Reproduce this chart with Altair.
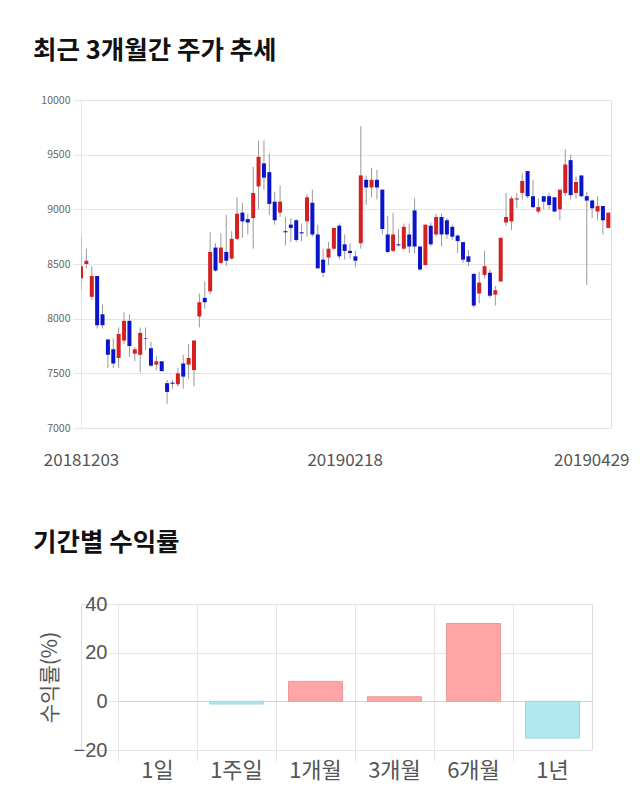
import altair as alt
import pandas as pd

# ---- candlestick data (index = trading day from 2018-12-03) ----
opens = [8370, 8500, 8200, 8390, 8040, 7810, 7720, 7640, 7800, 7980,
         7680, 7670, 7820, 7730, 7580, 7610, 7410, 7415, 7400, 7590,
         7580, 7530, 8020, 8190, 8250, 8650, 8510, 8610, 8550, 8730,
         8970, 8910, 8920, 9210, 9420, 9340, 9070, 8970, 8800, 8860,
         8900, 8790, 8890, 9060, 8770, 8540, 8560, 8640, 8850, 8680,
         8620, 8570, 8690, 9270, 9200, 9270, 9180, 8770, 8620, 8680,
         8640, 8770, 8990, 8660, 8490, 8850, 8770, 8930, 8900, 8840,
         8760, 8700, 8570, 8410, 8230, 8400, 8420, 8220, 8340, 8880,
         8890, 9090, 9150, 9350, 9120, 8980, 9120, 9120, 9110, 9000,
         9150, 9450, 9150, 9310, 9120, 9080, 8980, 9030, 8830]
closes = [8480, 8530, 8390, 7940, 7940, 7670, 7590, 7860, 7980, 7750,
          7720, 7870, 7815, 7570, 7610, 7520, 7330, 7405, 7500, 7470,
          7640, 7800, 8150, 8150, 8610, 8440, 8650, 8530, 8730, 8960,
          8890, 8880, 9150, 9480, 9290, 9050, 8900, 9070, 8790, 8830,
          8720, 8780, 9110, 8770, 8460, 8420, 8640, 8830, 8570, 8620,
          8600, 8530, 9310, 9200, 9270, 9200, 8820, 8610, 8770, 8670,
          8840, 8660, 8660, 8450, 8860, 8680, 8930, 8770, 8770, 8750,
          8710, 8540, 8520, 8120, 8330, 8480, 8210, 8260, 8740, 8930,
          9100, 9100, 9260, 9120, 9020, 9020, 9070, 9040, 8980, 9180,
          9410, 9130, 9250, 9120, 9080, 9010, 9030, 8900, 8970]
highs = [8750, 8640, 8480, 8390, 8130, 7810, 7820, 7920, 8060, 8040,
         7740, 7920, 7920, 7790, 7660, 7610, 7440, 7440, 7550, 7670,
         7770, 7800, 8230, 8340, 8790, 8690, 8780, 8950, 8800, 9110,
         9060, 8960, 9390, 9630, 9630, 9510, 9160, 9220, 8930, 8920,
         8910, 8870, 9140, 9180, 8860, 8640, 8700, 8830, 8870, 8770,
         8690, 8620, 9760, 9310, 9380, 9360, 9180, 8940, 8970, 8820,
         8870, 8870, 9100, 8660, 8860, 8880, 8960, 8960, 8920, 8860,
         8770, 8700, 8630, 8410, 8430, 8620, 8450, 8300, 8740, 9150,
         9120, 9150, 9330, 9350, 9270, 9100, 9120, 9150, 9110, 9180,
         9550, 9500, 9300, 9310, 9160, 9090, 9120, 9030, 8970]
lows = [8260, 8460, 8170, 7910, 7910, 7550, 7550, 7550, 7770, 7650,
        7610, 7510, 7710, 7560, 7530, 7520, 7220, 7360, 7380, 7360,
        7450, 7380, 7920, 8090, 8220, 8430, 8500, 8480, 8540, 8720,
        8740, 8770, 8640, 9000, 9180, 8950, 8860, 8930, 8670, 8700,
        8700, 8710, 8750, 8750, 8460, 8380, 8490, 8630, 8540, 8540,
        8550, 8470, 8640, 9040, 9110, 9090, 8770, 8600, 8610, 8660,
        8630, 8600, 8600, 8440, 8490, 8660, 8750, 8660, 8730, 8720,
        8600, 8510, 8480, 8100, 8140, 8370, 8190, 8120, 8340, 8850,
        8810, 9010, 9090, 9100, 9010, 8960, 9000, 9000, 8980, 8900,
        9120, 9090, 9100, 9110, 8310, 8920, 8900, 8770, 8830]
tick_idx = [0, 49, 98]
tick_labels = ["20181203", "20190218", "20190429"]
y_ticks = [7000, 7500, 8000, 8500, 9000, 9500, 10000]

# ---- period returns ----
periods = ["1일", "1주일", "1개월", "3개월", "6개월", "1년"]
returns = [0.0, -1.1, 8.2, 1.9, 32.0, -15.1]
ret_ticks = [-20, 0, 20, 40]

FONT = "Noto Sans CJK KR"
GRID = "#e6e6e6"

df = pd.DataFrame({"i": list(range(len(opens))), "open": opens, "close": closes,
                   "high": highs, "low": lows})

label_expr = "''"
for v, t in zip(tick_idx, tick_labels):
    label_expr = f"datum.value == {v} ? '{t}' : ({label_expr})"

xenc = alt.X("i:Q", scale=alt.Scale(domain=[0, 98.5], nice=False, zero=False, padding=0),
             axis=alt.Axis(values=tick_idx, labelExpr=label_expr, grid=False, ticks=False,
                           domain=False, labelPadding=24, labelFontSize=17, labelColor="#555",
                           labelFont=FONT, title=None, labelFlush=False, labelOverlap=False,
                           labelOffset={"condition": {"test": "datum.value == 98", "value": -17}, "value": 0}))

yscale = alt.Scale(domain=[7000, 10000], nice=False, zero=False)
yaxis = alt.Axis(values=y_ticks, format="d", title=None, labelFontSize=10.5, labelColor="#666",
                 labelFont=FONT, tickColor=GRID, tickSize=8, domainColor=GRID, gridColor=GRID,
                 labelPadding=3)

base = alt.Chart(df).encode(x=xenc)
wick = base.mark_rule(color="#999999", strokeWidth=1, clip=True).encode(
    y=alt.Y("low:Q", scale=yscale, axis=yaxis), y2="high:Q")
body = base.mark_bar(size=4, clip=True).encode(
    y=alt.Y("open:Q", scale=yscale), y2="close:Q",
    color=alt.condition("datum.close >= datum.open", alt.value("#d42020"), alt.value("#0a14c8")))

top = alt.layer(wick, body).properties(
    width=530, height=328,
    title=alt.TitleParams(text="최근 3개월간 주가 추세", anchor="start", frame="group", dx=-48,
                          offset=31, fontSize=25.5, font=FONT, fontWeight="bold", color="#111"))

# bottom panel: plot group starts at the same x as the top one; its bands and
# y axis are shifted right inside the group
SHIFT = 37
BW = 474
bdf = pd.DataFrame({"period": periods, "ret": returns})
bottom = alt.Chart(bdf).mark_bar(width=alt.RelativeBandSize(0.684), strokeWidth=1).encode(
    x=alt.X("period:N", sort=periods,
            scale=alt.Scale(paddingInner=0, paddingOuter=0, range=[SHIFT, SHIFT + BW]),
            axis=alt.Axis(bandPosition=0, labelAngle=0, grid=True, gridColor=GRID,
                          tickColor=GRID, tickSize=11, domain=False, labelFontSize=22,
                          labelColor="#555", labelFont=FONT, title=None, labelPadding=-1)),
    y=alt.Y("ret:Q", scale=alt.Scale(domain=[-20, 40], nice=False),
            axis=alt.Axis(values=ret_ticks, title="수익률(%)", titleFontSize=21, titleFontWeight="normal",
                          titleColor="#555", titleFont=FONT, titlePadding=13, labelFontSize=20,
                          labelColor="#555", labelFont="Liberation Sans", tickColor=GRID, tickSize=10,
                          domain=False, labelPadding=1, offset=-SHIFT,
                          gridColor={"condition": {"test": "datum.value == 0", "value": "#d2d2d2"},
                                     "value": GRID})),
    color=alt.condition("datum.ret >= 0", alt.value("#ffa5a5"), alt.value("#b0e8f2")),
    stroke=alt.condition("datum.ret >= 0", alt.value("#eb9a9a"), alt.value("#9cd6e2")),
    strokeOpacity=alt.condition("datum.ret == 0", alt.value(0), alt.value(1)),
).properties(
    width=SHIFT + BW, height=146,
    title=alt.TitleParams(text="기간별 수익률", anchor="start", frame="group", dx=-48,
                          offset=38, fontSize=25.5, font=FONT, fontWeight="bold", color="#111"))

chart = alt.vconcat(top, bottom, spacing=61).properties(
    padding={"left": 32, "top": 38, "right": 5, "bottom": 5}
).configure_view(stroke=None).configure(background="white")

chart.save("out.html", embed_options={"renderer": "svg", "actions": False})
